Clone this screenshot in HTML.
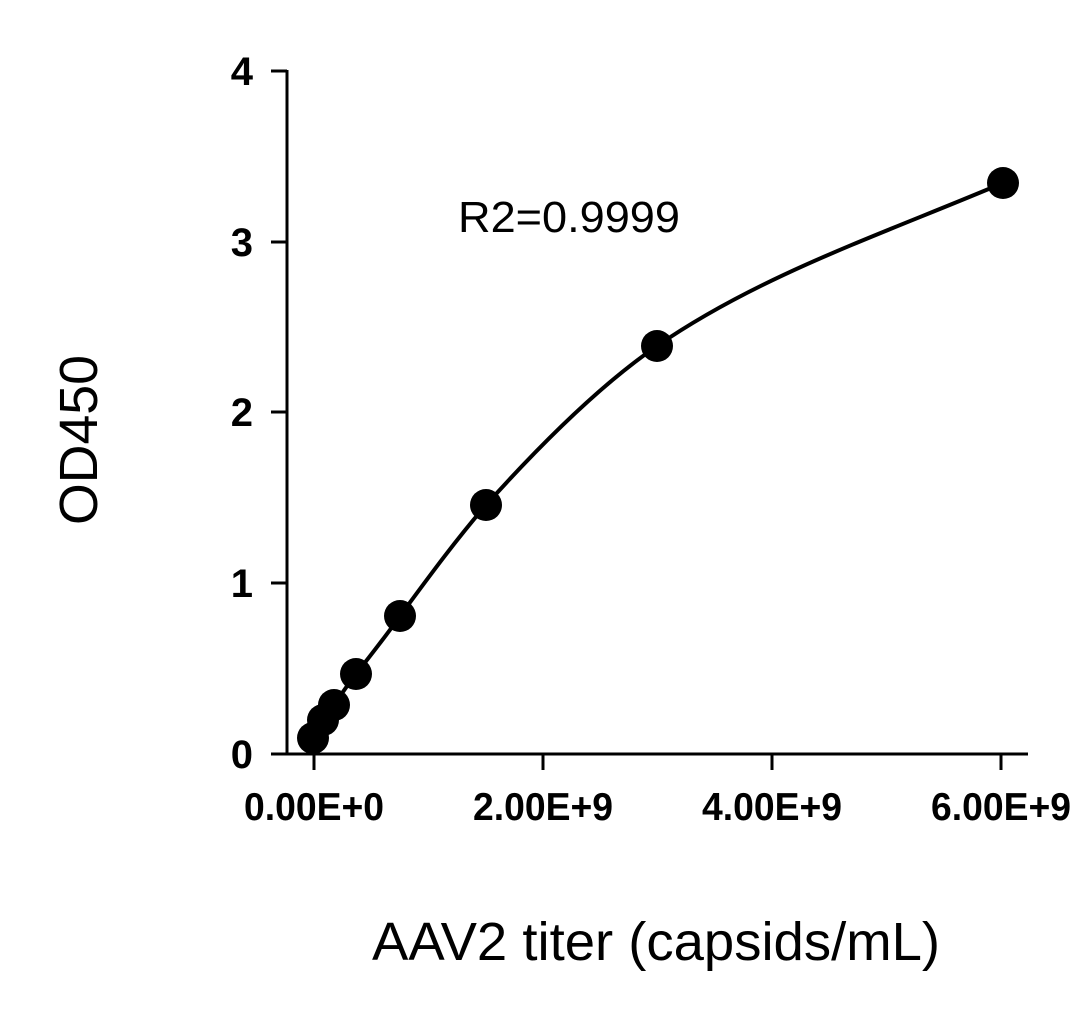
<!DOCTYPE html>
<html><head><style>body{margin:0;background:#fff}</style></head><body>
<svg width="1080" height="1016" xmlns="http://www.w3.org/2000/svg" font-family="Liberation Sans, Arial, sans-serif">
<g stroke="#000" stroke-width="3" fill="none">
<path d="M287,70 V754 M271,754 H1028"/>
<path d="M271,71 H287 M271,242 H287 M271,412 H287 M271,583 H287"/>
<path d="M314,754 V770 M543,754 V770 M772,754 V770 M1001,754 V770"/>
<path d="M313,738 C317,732 320,726 323,720 C327,714 330,709 334,705 C341,695 348,684 356,674 C371,655 386,636 400,616 C428,578 455,541 486,505 C540,445 600,385 657,346 C760,275 880,235 1003,183" stroke-width="4"/>
</g>
<g fill="#000">
<circle cx="313" cy="738" r="16"/><circle cx="323" cy="720" r="16"/><circle cx="334" cy="705" r="16"/>
<circle cx="356" cy="674" r="16"/><circle cx="400" cy="616" r="16"/><circle cx="486" cy="505" r="16"/>
<circle cx="657" cy="346" r="16"/><circle cx="1003" cy="183" r="16"/>
</g>
<g font-weight="bold" font-size="40" text-anchor="end">
<text x="253" y="85">4</text><text x="253" y="256">3</text><text x="253" y="426">2</text><text x="253" y="597">1</text><text x="253" y="768">0</text>
</g>
<g font-weight="bold" font-size="39" text-anchor="middle">
<text x="314" y="820" textLength="140" lengthAdjust="spacingAndGlyphs">0.00E+0</text>
<text x="543" y="820" textLength="140" lengthAdjust="spacingAndGlyphs">2.00E+9</text>
<text x="772" y="820" textLength="140" lengthAdjust="spacingAndGlyphs">4.00E+9</text>
<text x="1001" y="820" textLength="140" lengthAdjust="spacingAndGlyphs">6.00E+9</text>
</g>
<text x="458" y="232" font-size="44" textLength="222" lengthAdjust="spacingAndGlyphs">R2=0.9999</text>
<text x="372" y="960" font-size="54" textLength="568" lengthAdjust="spacingAndGlyphs">AAV2 titer (capsids/mL)</text>
<text transform="translate(97,440) rotate(-90)" font-size="54" text-anchor="middle" textLength="170" lengthAdjust="spacingAndGlyphs">OD450</text>
</svg>
</body></html>
